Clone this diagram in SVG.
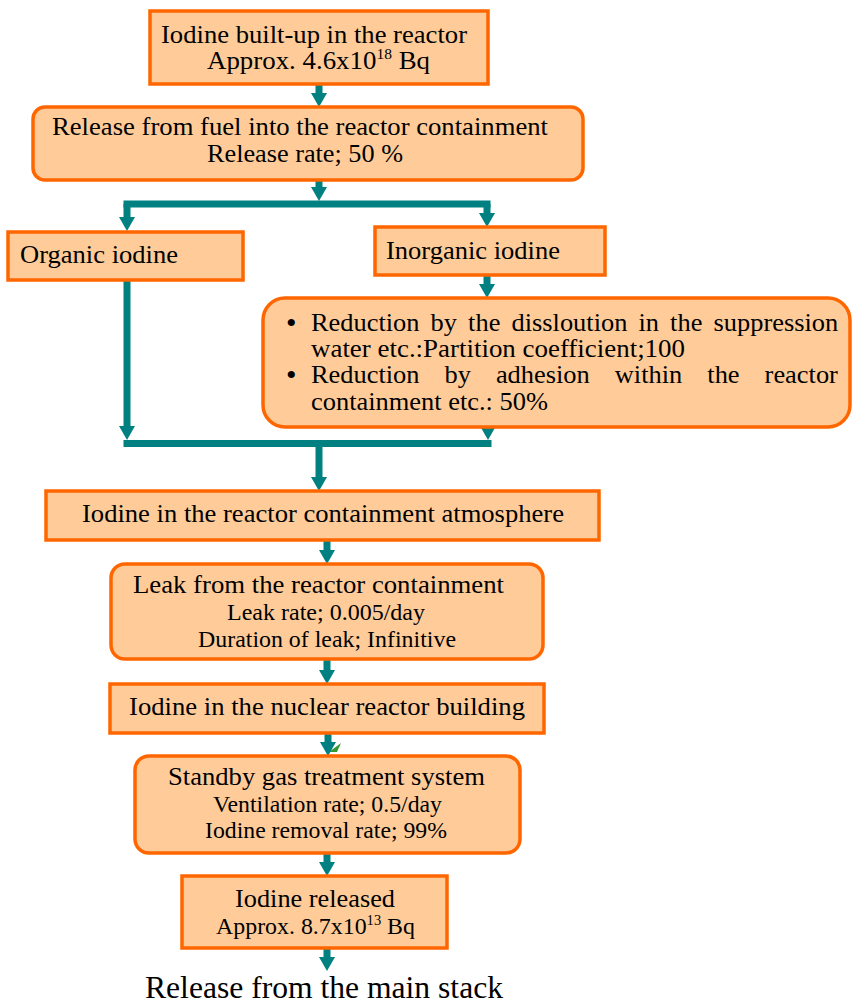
<svg xmlns="http://www.w3.org/2000/svg" width="852" height="1005" viewBox="0 0 852 1005">
<style>
.box{fill:#FFCC99;stroke:#FF6600;stroke-width:3.5}
.t{font-family:"Liberation Serif","Times New Roman",serif;font-size:26px;fill:#000}
.s{font-family:"Liberation Serif","Times New Roman",serif;font-size:23px;fill:#000}
.b{font-family:"Liberation Serif","Times New Roman",serif;font-size:30px;fill:#000}
.c{fill:none;stroke:#008080;stroke-width:7}
.ca{fill:none;stroke:#008080;stroke-width:7;marker-end:url(#ah)}
</style>
<defs>
<marker id="ah" markerUnits="userSpaceOnUse" markerWidth="14" markerHeight="16" refX="2" refY="8" orient="auto" overflow="visible">
<path d="M0,0 L14,8 L0,16 z" fill="#008080"/>
</marker>
</defs>
<rect width="852" height="1005" fill="#fff"/>

<g id="connectors">
<line class="ca" x1="319" y1="84" x2="319" y2="95"/>
<line class="ca" x1="319" y1="180" x2="319" y2="189"/>
<line class="c" x1="123.5" y1="204" x2="490.5" y2="204"/>
<line class="ca" x1="127" y1="204" x2="127" y2="219"/>
<line class="ca" x1="487" y1="204" x2="487" y2="215"/>
<line class="ca" x1="487" y1="275" x2="487" y2="286"/>
<line class="ca" x1="127" y1="280" x2="127" y2="428"/>
<line class="ca" x1="488" y1="420" x2="488" y2="428"/>
<line class="c" x1="123.5" y1="443.5" x2="491.5" y2="443.5"/>
<line class="ca" x1="319" y1="443.5" x2="319" y2="479"/>
<line class="ca" x1="327" y1="540" x2="327" y2="552"/>
<line class="ca" x1="327" y1="659" x2="327" y2="672"/>
<polygon points="329,752 341,743 337,752" fill="#339933"/>
<line class="ca" x1="328" y1="734" x2="328" y2="744"/>
<line class="ca" x1="327" y1="853" x2="327" y2="864"/>
<line class="ca" x1="327" y1="949" x2="327" y2="959"/>
</g>

<g id="n1">
<rect class="box" x="150" y="11" width="338" height="73"/>
<text class="t" x="161" y="43" textLength="306" lengthAdjust="spacingAndGlyphs">Iodine built-up in the reactor</text>
<text class="t" x="207" y="69" textLength="223" lengthAdjust="spacingAndGlyphs">Approx. 4.6x10<tspan font-size="15" dy="-10">18</tspan><tspan dy="10"> Bq</tspan></text>
</g>

<g id="n2">
<rect class="box" x="33" y="107" width="550" height="73" rx="12"/>
<text class="t" x="52" y="135" textLength="496" lengthAdjust="spacingAndGlyphs">Release from fuel into the reactor containment</text>
<text class="t" x="207" y="162" textLength="196" lengthAdjust="spacingAndGlyphs">Release rate; 50 %</text>
</g>

<g id="n3">
<rect class="box" x="8" y="232" width="235" height="48"/>
<text class="t" x="20" y="263" textLength="158" lengthAdjust="spacingAndGlyphs">Organic iodine</text>
</g>

<g id="n4">
<rect class="box" x="375" y="227" width="230" height="48"/>
<text class="t" x="386" y="259" textLength="174" lengthAdjust="spacingAndGlyphs">Inorganic iodine</text>
</g>

<g id="n5">
<rect class="box" x="263" y="298" width="587" height="129" rx="22"/>
<text class="b" x="286" y="333">•</text>
<text class="t" x="311" y="331" textLength="108.5" lengthAdjust="spacingAndGlyphs">Reduction</text>
<text class="t" x="430.6" y="331" textLength="26.4" lengthAdjust="spacingAndGlyphs">by</text>
<text class="t" x="468.1" y="331" textLength="32.3" lengthAdjust="spacingAndGlyphs">the</text>
<text class="t" x="511.5" y="331" textLength="115.9" lengthAdjust="spacingAndGlyphs">dissloution</text>
<text class="t" x="638.5" y="331" textLength="20.5" lengthAdjust="spacingAndGlyphs">in</text>
<text class="t" x="670.1" y="331" textLength="32.3" lengthAdjust="spacingAndGlyphs">the</text>
<text class="t" x="713.5" y="331" textLength="124.7" lengthAdjust="spacingAndGlyphs">suppression</text>
<text class="t" x="311" y="357" textLength="374" lengthAdjust="spacingAndGlyphs">water etc.:Partition coefficient;100</text>
<text class="b" x="286" y="385">•</text>
<text class="t" x="311" y="383" textLength="108.5" lengthAdjust="spacingAndGlyphs">Reduction</text>
<text class="t" x="444.5" y="383" textLength="26.4" lengthAdjust="spacingAndGlyphs">by</text>
<text class="t" x="495.9" y="383" textLength="93.9" lengthAdjust="spacingAndGlyphs">adhesion</text>
<text class="t" x="614.8" y="383" textLength="67.5" lengthAdjust="spacingAndGlyphs">within</text>
<text class="t" x="707.3" y="383" textLength="32.3" lengthAdjust="spacingAndGlyphs">the</text>
<text class="t" x="764.6" y="383" textLength="73.3" lengthAdjust="spacingAndGlyphs">reactor</text>
<text class="t" x="311" y="410" textLength="237" lengthAdjust="spacingAndGlyphs">containment etc.: 50%</text>
</g>

<g id="n6">
<rect class="box" x="46" y="491" width="553" height="49"/>
<text class="t" x="82" y="522" textLength="482" lengthAdjust="spacingAndGlyphs">Iodine in the reactor containment atmosphere</text>
</g>

<g id="n7">
<rect class="box" x="111" y="564" width="432" height="95" rx="14"/>
<text class="t" x="133" y="593" textLength="371" lengthAdjust="spacingAndGlyphs">Leak from the reactor containment</text>
<text class="s" x="227" y="620" textLength="198" lengthAdjust="spacingAndGlyphs">Leak rate; 0.005/day</text>
<text class="s" x="198" y="647" textLength="258" lengthAdjust="spacingAndGlyphs">Duration of leak; Infinitive</text>
</g>

<g id="n8">
<rect class="box" x="110" y="684" width="434" height="49"/>
<text class="t" x="129" y="715" textLength="396" lengthAdjust="spacingAndGlyphs">Iodine in the nuclear reactor building</text>
</g>

<g id="n9">
<rect class="box" x="135" y="756" width="385" height="97" rx="14"/>
<text class="t" x="168" y="785" textLength="317" lengthAdjust="spacingAndGlyphs">Standby gas treatment system</text>
<text class="s" x="213" y="812" textLength="229" lengthAdjust="spacingAndGlyphs">Ventilation rate; 0.5/day</text>
<text class="s" x="205" y="838" textLength="242" lengthAdjust="spacingAndGlyphs">Iodine removal rate; 99%</text>
</g>

<g id="n10">
<rect class="box" x="182" y="876" width="265" height="72"/>
<text class="t" x="235" y="907" textLength="160" lengthAdjust="spacingAndGlyphs">Iodine released</text>
<text class="s" x="216" y="934" textLength="199" lengthAdjust="spacingAndGlyphs">Approx. 8.7x10<tspan font-size="14" dy="-9">13</tspan><tspan dy="9"> Bq</tspan></text>
</g>

<g id="n11">
<text x="145" y="998" font-family="'Liberation Serif','Times New Roman',serif" font-size="31" textLength="358" lengthAdjust="spacingAndGlyphs">Release from the main stack</text>
</g>
</svg>
